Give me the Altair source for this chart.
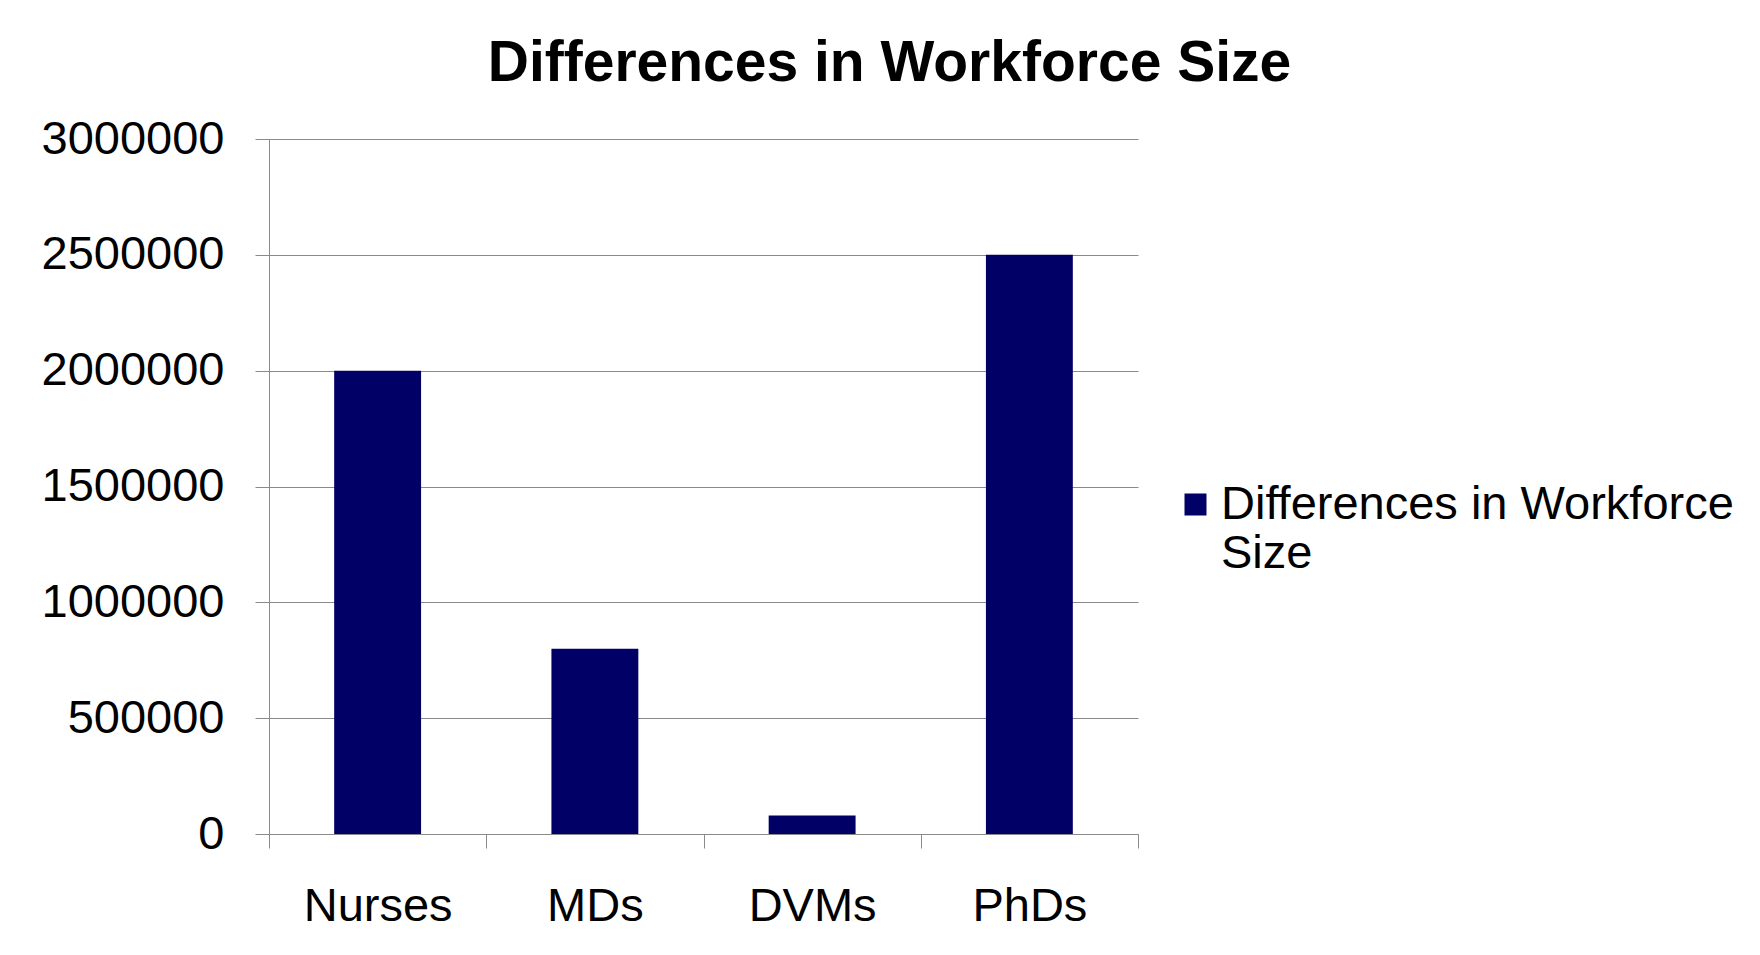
import altair as alt
import pandas as pd

categories = ["Nurses", "MDs", "DVMs", "PhDs"]
values = [2000000, 800000, 80000, 2500000]
series_name = "Differences in Workforce Size"
y_ticks = [0, 500000, 1000000, 1500000, 2000000, 2500000, 3000000]

df = pd.DataFrame({"category": categories, "value": values, "series": [series_name] * len(categories)})

FONT = "Liberation Sans"
NAVY = "#000066"
GRID = "#8a8a8a"

chart = (
    alt.Chart(df)
    .mark_bar(width=alt.RelativeBandSize(0.4), color=NAVY)
    .encode(
        x=alt.X(
            "category:N",
            sort=categories,
            scale=alt.Scale(paddingInner=0, paddingOuter=0),
            axis=alt.Axis(
                title=None,
                labelAngle=0,
                labelFont=FONT,
                labelFontSize=47,
                labelColor="black",
                labelBaseline="top",
                labelPadding=35,
                tickBand="extent",
                tickSize=14,
                tickColor=GRID,
                domainColor=GRID,
                grid=False,
            ),
        ),
        y=alt.Y(
            "value:Q",
            scale=alt.Scale(domain=[0, 3000000], nice=False),
            axis=alt.Axis(
                title=None,
                values=y_ticks,
                format="d",
                labelFont=FONT,
                labelFontSize=47,
                labelColor="black",
                labelLimit=400,
                labelPadding=31,
                tickSize=14,
                tickColor=GRID,
                domainColor=GRID,
                gridColor=GRID,
                grid=True,
            ),
        ),
        color=alt.Color(
            "series:N",
            scale=alt.Scale(range=[NAVY]),
            legend=alt.Legend(
                title=None,
                orient="none",
                legendX=903,
                legendY=342,
                padding=0,
                labelFont=FONT,
                labelFontSize=47,
                labelColor="black",
                labelLimit=800,
                labelOffset=2,
                symbolType="square",
                symbolSize=484,
                symbolStrokeWidth=0,
                labelExpr="['Differences in Workforce', 'Size']",
            ),
        ),
    )
    .properties(
        width=869,
        height=695,
        autosize=alt.AutoSizeParams(type="none"),
        padding={"left": 261, "top": 131, "right": 614, "bottom": 111},
        title=alt.TitleParams(
            text=series_name,
            font=FONT,
            fontSize=57,
            fontWeight="bold",
            color="black",
            anchor="middle",
            frame="group",
            dx=186,
            offset=22,
        ),
    )
    .configure_view(strokeWidth=0)
)

chart.save("out.html", embed_options={"renderer": "svg", "actions": False})
